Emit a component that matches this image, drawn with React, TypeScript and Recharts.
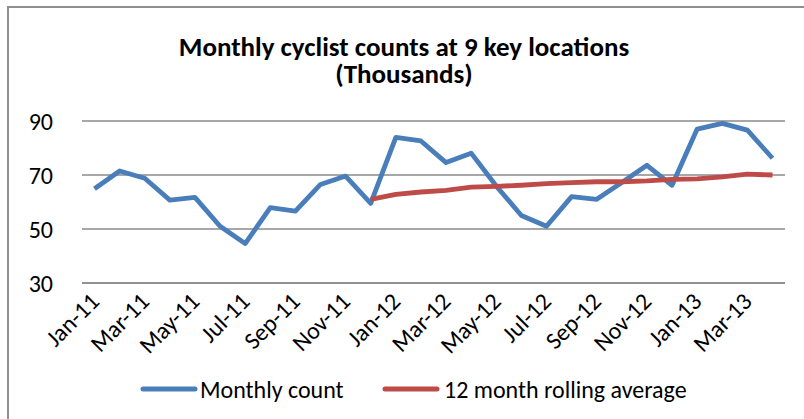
import React from 'react';
import { LineChart, Line, XAxis, YAxis, CartesianGrid, Legend } from 'recharts';

const months = [
  'Jan-11', 'Feb-11', 'Mar-11', 'Apr-11', 'May-11', 'Jun-11', 'Jul-11', 'Aug-11', 'Sep-11', 'Oct-11', 'Nov-11', 'Dec-11',
  'Jan-12', 'Feb-12', 'Mar-12', 'Apr-12', 'May-12', 'Jun-12', 'Jul-12', 'Aug-12', 'Sep-12', 'Oct-12', 'Nov-12', 'Dec-12',
  'Jan-13', 'Feb-13', 'Mar-13', 'Apr-13',
];

const monthlyCount = [
  64.9, 71.5, 68.8, 60.7, 61.7, 51.0, 44.6, 57.9, 56.6, 66.5, 69.6, 59.5,
  83.9, 82.6, 74.6, 78.1, 65.9, 55.0, 51.0, 62.0, 61.0, 67.2, 73.6, 66.2,
  87.0, 89.1, 86.6, 76.2,
];

const rollingAverage: (number | null)[] = [
  null, null, null, null, null, null, null, null, null, null, null, 61.0,
  62.8, 63.7, 64.3, 65.5, 65.8, 66.2, 66.8, 67.2, 67.5, 67.5, 67.8, 68.4,
  68.6, 69.3, 70.3, 70.0,
];

const yTicks = [30, 50, 70, 90];

const titleLines = ['Monthly cyclist counts at 9 key locations', '(Thousands)'];
const seriesNames = ['Monthly count', '12 month rolling average'];

const data = months.map((m, i) => ({
  month: m,
  count: monthlyCount[i],
  avg: rollingAverage[i],
}));

const FONT = 'Carlito, Calibri, Lato, sans-serif';
const BLUE = '#4A7EBB';
const RED = '#BE4B48';
const GRID = '#8a8a8a';
const FS = 24;

const XTick = (props: any) => {
  const { x, y, payload } = props;
  return (
    <g transform={`translate(${x + 6},${y + 12})`}>
      <text
        x={0}
        y={0}
        textAnchor="end"
        transform="rotate(-45)"
        fontFamily={FONT}
        fontSize={FS}
        fill="#000"
      >
        {payload.value}
      </text>
    </g>
  );
};

const YTick = (props: any) => {
  const { x, y, payload } = props;
  return (
    <text x={x - 21} y={y + 8.5} textAnchor="end" fontFamily={FONT} fontSize={FS} fill="#000">
      {payload.value}
    </text>
  );
};

const LegendContent = () => (
  <div style={{ position: 'relative', width: 804, height: 40 }}>
    <svg width={804} height={40} style={{ position: 'absolute', left: 0, top: 0 }}>
      <line x1={143} x2={195} y1={20} y2={20} stroke={BLUE} strokeWidth={5} strokeLinecap="round" />
      <text x={200} y={28.5} fontFamily={FONT} fontSize={FS} fill="#000">{seriesNames[0]}</text>
      <line x1={385} x2={437} y1={20} y2={20} stroke={RED} strokeWidth={5} strokeLinecap="round" />
      <text x={444} y={28.5} fontFamily={FONT} fontSize={FS} fill="#000">{seriesNames[1]}</text>
    </svg>
  </div>
);

export default function App() {
  return (
    <div style={{ position: 'absolute', left: 0, top: 0, width: 804, height: 419, background: '#fff', overflow: 'hidden' }}>
      <div
        style={{
          position: 'absolute', left: 7, top: 6, width: 820, height: 430,
          borderTop: '2px solid #8e8e8e', borderLeft: '2px solid #8e8e8e',
        }}
      />
      <div style={{ position: 'absolute', left: 0, top: 0 }}>
        <LineChart
          width={804}
          height={419}
          data={data}
          margin={{ top: 121, right: 19, left: 22, bottom: 76 }}
        >
          <CartesianGrid horizontal vertical={false} stroke={GRID} strokeWidth={1.5} />
          <XAxis
            dataKey="month"
            height={60}
            interval={1}
            tickLine={false}
            axisLine={{ stroke: GRID, strokeWidth: 1.5 }}
            padding={{ left: 12.5, right: 12.5 }}
            tick={<XTick />}
          />
          <YAxis
            width={60}
            domain={[30, 90]}
            ticks={yTicks}
            axisLine={false}
            tickLine={false}
            tick={<YTick />}
          />
          <Legend
            layout="horizontal"
            verticalAlign="middle"
            align="center"
            wrapperStyle={{ left: 0, top: 369, width: 804 }}
            content={<LegendContent />}
          />
          <Line
            type="linear"
            dataKey="count"
            name={seriesNames[0]}
            stroke={BLUE}
            strokeWidth={4.8}
            dot={false}
            strokeLinejoin="round"
            isAnimationActive={false}
          />
          <Line
            type="linear"
            dataKey="avg"
            name={seriesNames[1]}
            stroke={RED}
            strokeWidth={4.8}
            dot={false}
            strokeLinejoin="round"
            isAnimationActive={false}
          />
        </LineChart>
      </div>
      <div
        style={{
          position: 'absolute', left: 404, top: 33, transform: 'translateX(-50%)', whiteSpace: 'pre',
          textAlign: 'center', fontFamily: FONT, fontWeight: 700, fontSize: 27, color: '#000', lineHeight: '27px',
        }}
      >
        {titleLines.join('\n')}
      </div>
    </div>
  );
}
